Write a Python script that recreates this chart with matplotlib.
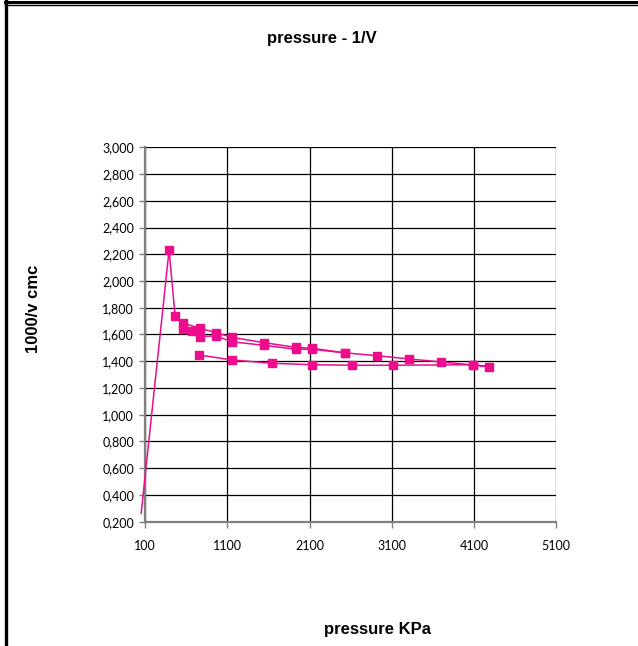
import matplotlib.pyplot as plt
from matplotlib.ticker import FuncFormatter, FixedLocator
from matplotlib.lines import Line2D

# first run: peak, upper branch out to max pressure, lower branch back
p_run1 = [50, 390, 463, 562, 766, 960, 1151, 1544, 1933, 2128, 2526, 2918, 3308, 3700, 4090, 4285,
          4090, 3110, 2611, 2128, 1638, 1151, 754]
v_run1 = [0.263, 2.232, 1.738, 1.684, 1.647, 1.614, 1.579, 1.539, 1.504, 1.497, 1.463, 1.442, 1.417, 1.395, 1.372, 1.359,
          1.374, 1.370, 1.370, 1.374, 1.385, 1.410, 1.447]
# second run (slightly lower upper branch)
p_run2 = [562, 664, 766, 960, 1151, 1544, 1933, 2128, 2526]
v_run2 = [1.641, 1.629, 1.584, 1.590, 1.546, 1.519, 1.490, 1.490, 1.463]

x_ticks = [100, 1100, 2100, 3100, 4100, 5100]
y_ticks = [0.2 + 0.2 * i for i in range(15)]

pink = '#EC0C8C'

fig = plt.figure(figsize=(6.38, 6.46), dpi=100)
ax = fig.add_axes([0.2277, 0.1924, 0.6438, 0.5796])

ax.plot(p_run1, v_run1, color=pink, lw=1.1, marker='s', ms=5.8, mec=pink, mfc=pink,
        markevery=list(range(1, len(p_run1))), clip_on=False, zorder=3)
ax.plot(p_run2, v_run2, color=pink, lw=1.1, marker='s', ms=5.8, mec=pink, mfc=pink, zorder=3)

ax.set_xlim(100, 5100)
ax.set_ylim(0.2, 3.0)
ax.xaxis.set_major_locator(FixedLocator(x_ticks))
ax.yaxis.set_major_locator(FixedLocator(y_ticks))
ax.yaxis.set_major_formatter(FuncFormatter(lambda v, pos: ('%.3f' % v).replace('.', ',')))
ax.grid(True, color='black', lw=0.9)
ax.set_axisbelow(True)

for s in ['top', 'right']:
    ax.spines[s].set_visible(False)
for s in ['left', 'bottom']:
    ax.spines[s].set_color('#808080')
    ax.spines[s].set_linewidth(1.6)
ax.tick_params(direction='out', length=4, width=1, color='#808080', labelsize=9, pad=4)
for lab in ax.get_xticklabels() + ax.get_yticklabels():
    lab.set_family('Lato')
ax.tick_params(axis='x', pad=9)

fig.text(0.504, 0.940, 'pressure - 1/V', ha='center', va='center', fontsize=12,
         fontweight='bold', family='Liberation Sans')
fig.text(0.591, 0.026, 'pressure KPa', ha='center', va='center', fontsize=12,
         fontweight='bold', family='Liberation Sans')
fig.text(0.053, 0.522, '1000/v cmc', ha='center', va='center', rotation=90, fontsize=12,
         fontweight='bold', family='Liberation Sans')

# page frame lines
fig.add_artist(Line2D([0.008, 1.0], [0.9965, 0.9965], color='black', lw=2.2, transform=fig.transFigure))
fig.add_artist(Line2D([0.008, 1.0], [0.9915, 0.9915], color='black', lw=1.0, transform=fig.transFigure))
fig.add_artist(Line2D([0.0095, 0.0095], [0.0, 0.998], color='black', lw=2.4, transform=fig.transFigure))

plt.savefig('out.png', dpi=100)
plt.close()
